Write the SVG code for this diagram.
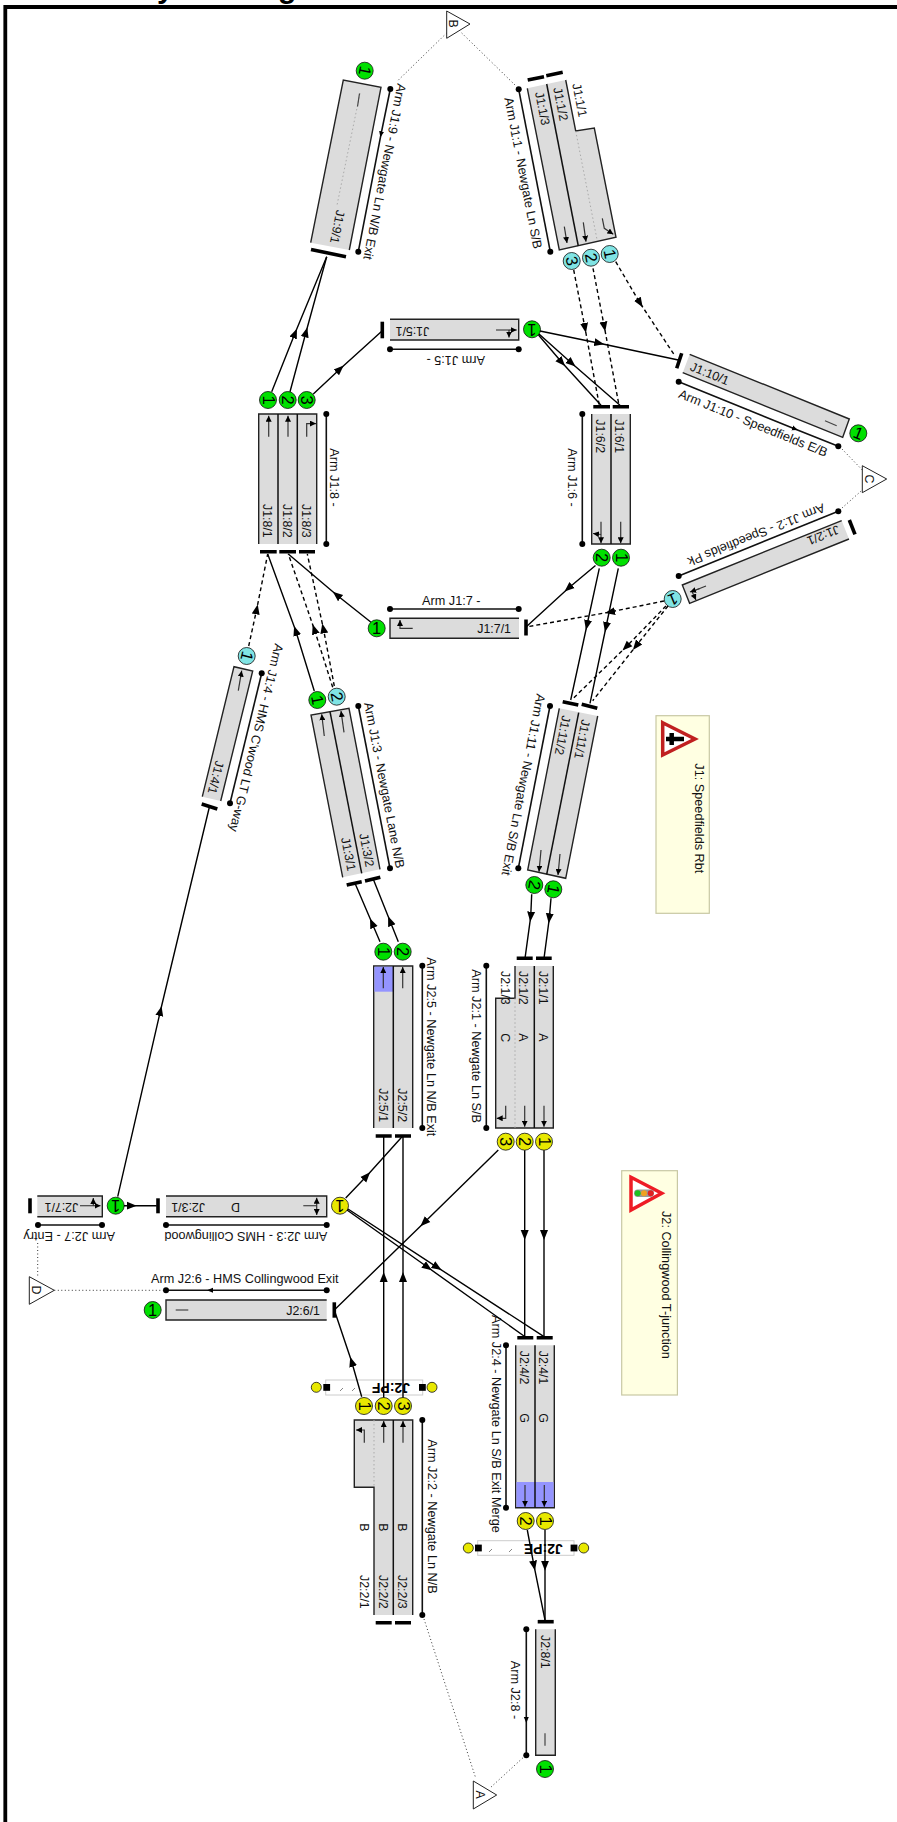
<svg xmlns="http://www.w3.org/2000/svg" width="897" height="1822" viewBox="0 0 897 1822">
<style>
text{font-family:"Liberation Sans",Arial,sans-serif;font-size:12.400px;fill:#111}
.lb{font-size:12.700px;fill:#111}
.n{font-size:16.500px;text-anchor:middle;fill:#000}
.t{font-weight:bold;font-size:30px;fill:#000}
.px{font-weight:bold;font-size:14px;fill:#000}
.ar{fill:#dcdcdc;stroke:#222;stroke-width:1.400}
.dv{stroke:#111;stroke-width:1.500;fill:none}
.dt{stroke:#aaa;stroke-width:1;stroke-dasharray:1.500 2.500;fill:none}
.bar{stroke:#000;stroke-width:3.600;fill:none}
.ln{stroke:#111;stroke-width:1.600;fill:none}
.mid{marker-mid:url(#m)}
.dot{fill:#000}
.g{fill:#00e000;stroke:#111;stroke-width:.8}
.y{fill:#e8e800;stroke:#111;stroke-width:.8}
.b{fill:#80e4e4;stroke:#111;stroke-width:.8}
.la{stroke:#333;stroke-width:1.200;fill:none;marker-end:url(#s)}
.mk{stroke:#444;stroke-width:1.200;fill:none}
.c{stroke:#000;stroke-width:1.400;fill:none;marker-mid:url(#h)}
.d{stroke:#000;stroke-width:1.400;fill:none;stroke-dasharray:4 3;marker-mid:url(#h)}
.o{stroke:#333;stroke-width:1;fill:none;stroke-dasharray:1 2.500}
.tri{fill:#fff;stroke:#222;stroke-width:1}
.note{fill:#ffffe2;stroke:#c8c8a4;stroke-width:1.200}
.blue{fill:#9494ff}
.cross{fill:#fff;stroke:#ccc;stroke-width:1}
.sl{stroke:#666;stroke-width:.8;fill:none}
</style>
<defs>
<marker id="h" markerUnits="userSpaceOnUse" markerWidth="12" markerHeight="10" refX="5" refY="4" orient="auto" viewBox="0 0 12 8"><path d="M0 0L10 4L0 8Z" fill="#000"/></marker>
<marker id="m" markerUnits="userSpaceOnUse" markerWidth="8" markerHeight="6" refX="3" refY="3" orient="auto" viewBox="0 0 8 6"><path d="M0 .5L6 3L0 5.500Z" fill="#000"/></marker>
<marker id="s" markerUnits="userSpaceOnUse" markerWidth="8" markerHeight="6" refX="6" refY="3" orient="auto" viewBox="0 0 8 6"><path d="M0 0L6 3L0 6Z" fill="#000"/></marker>
</defs>

<g id="frame">
<path d="M5.300 1822V7H897" fill="none" stroke="#000" stroke-width="3.800"/>
<text class="t" x="157" y="-2.500">y</text>
<text class="t" x="278" y="-2.500">g</text>
</g>

<g id="arm-J1-9">
<path class="ar" d="M310.700 242.700L343.300 80L381 87.300L349.300 250"/>
<path class="dt" d="M360 93.300L336.700 206.700"/>
<path class="bar" d="M311 249.500L346 256.700"/>
<path class="mk" d="M359.500 93.500L357.500 106.500"/>
<text transform="translate(336.500 209.500) rotate(101)">J1:9/1</text>
<circle class="g" cx="364.700" cy="70.700" r="8.500"/>
<text class="n" transform="translate(364.700 70.700) rotate(101)" y="5.500">1</text>
<path class="ln mid" d="M390.300 89L381 134.300L358.300 251.700"/>
<circle class="dot" cx="390.300" cy="89" r="3"/><circle class="dot" cx="358.300" cy="251.700" r="3"/>
<text class="lb" transform="translate(397.500 83) rotate(101)">Arm J1:9 - Newgate Ln N/B Exit</text>
</g>

<g id="arm-J1-1">
<path class="ar" d="M565.700 80L575.700 131L594.300 128L616 237.300L559.300 250L527.300 88.300"/>
<path class="dv" d="M546.700 84L578.300 246"/>
<path class="dt" d="M575.700 131L597.300 241"/>
<path class="bar" d="M527.700 80L544 76.700M546.300 75.700L562.700 72.300"/>
<path class="la" d="M564.300 226.700L567 243"/><path class="la" d="M583.300 222.300L586 241.700"/><path class="la" d="M602.300 218.300L604.300 228.300L613.300 234.300"/>
<text transform="translate(535 92.700) rotate(79)">J1:1/3</text>
<text transform="translate(553.300 88.300) rotate(79)">J1:1/2</text>
<text transform="translate(572.300 84.300) rotate(79)">J1:1/1</text>
<circle class="b" cx="571.700" cy="261" r="8.500"/><text class="n" transform="translate(571.700 261) rotate(79)" y="5.500">3</text>
<circle class="b" cx="591" cy="257.700" r="8.500"/><text class="n" transform="translate(591 257.700) rotate(79)" y="5.500">2</text>
<circle class="b" cx="609.700" cy="254" r="8.500"/><text class="n" transform="translate(609.700 254) rotate(79)" y="5.500">1</text>
<path class="ln" d="M518.700 89.300L550.300 251.700"/>
<circle class="dot" cx="518.700" cy="89.300" r="3"/><circle class="dot" cx="550.300" cy="251.700" r="3"/>
<text class="lb" transform="translate(504.300 98.300) rotate(79)">Arm J1:1 - Newgate Ln S/B</text>
</g>

<g id="arm-J1-10">
<path class="ar" d="M682.700 372.700L842.700 437.300L849.300 419L689.700 354.300"/>
<path class="bar" d="M676.700 368.300L681.700 353.300"/>
<path class="mk" d="M825 420.700L836.700 425.700"/>
<text transform="translate(689.300 370) rotate(22)">J1:10/1</text>
<circle class="g" cx="858.300" cy="433.300" r="8.500"/><text class="n" transform="translate(858.300 433.300) rotate(22)" y="5.500">1</text>
<path class="ln mid" d="M678.700 381.700L795 429L838.300 446.300"/>
<circle class="dot" cx="678.700" cy="381.700" r="3"/><circle class="dot" cx="838.300" cy="446.300" r="3"/>
<text class="lb" transform="translate(677.700 397.300) rotate(22)">Arm J1:10 - Speedfields E/B</text>
</g>

<g id="arm-J1-2">
<path class="ar" d="M841.700 520.700L682.300 585L689.600 603.300L849 539"/>
<path class="bar" d="M849.300 520L855 534.300"/>
<path class="la" d="M706 586L692 591.500L696 600"/><path class="la" d="M700 588.500L690 592"/>
<text transform="translate(837.300 525) rotate(158)">J1:2/1</text>
<circle class="b" cx="672.700" cy="599" r="8.500"/><text class="n" transform="translate(672.700 599) rotate(158)" y="5.500">1</text>
<path class="ln" d="M838.300 511.300L678.700 576"/>
<circle class="dot" cx="838.300" cy="511.300" r="3"/><circle class="dot" cx="678.700" cy="576" r="3"/>
<text class="lb" transform="translate(822.700 503.300) rotate(158)">Arm J1:2 - Speedfields Pk</text>
</g>

<g id="arm-J1-6">
<path class="ar" d="M591.700 414V544H630.300V414"/>
<path class="dv" d="M611 414V544"/>
<path class="bar" d="M593.300 406.700H610M612.700 406.700H629"/>
<path class="la" d="M620.700 521.700V543.300"/><path class="la" d="M601 521.700V543.300"/><path class="la" d="M601 534.500L593 533.500"/>
<text transform="translate(596 419.300) rotate(90)">J1:6/2</text>
<text transform="translate(615.300 419.300) rotate(90)">J1:6/1</text>
<circle class="g" cx="601.700" cy="557.700" r="8.500"/><text class="n" transform="translate(601.700 557.700) rotate(90)" y="5.500">2</text>
<circle class="g" cx="621" cy="557.700" r="8.500"/><text class="n" transform="translate(621 557.700) rotate(90)" y="5.500">1</text>
<path class="ln" d="M582.300 414V544"/>
<circle class="dot" cx="582.300" cy="414" r="3"/><circle class="dot" cx="582.300" cy="544" r="3"/>
<text class="lb" transform="translate(568.300 448.300) rotate(90)">Arm J1:6 -</text>
</g>

<g id="arm-J1-5">
<path class="ar" d="M390 319.300H518.700V340H390"/>
<path class="bar" d="M382.300 321.700V338.300"/>
<path class="mk" d="M496 330H509"/><path class="la" d="M509 330H516.700"/><path class="la" d="M509 330V337.500"/>
<text transform="translate(429.300 326.700) rotate(180)">J1:5/1</text>
<circle class="g" cx="532" cy="329.300" r="8.500"/><text class="n" transform="translate(532 329.300) rotate(180)" y="5.500">1</text>
<path class="ln" d="M390 349.300H518.700"/>
<circle class="dot" cx="390" cy="349.300" r="3"/><circle class="dot" cx="518.700" cy="349.300" r="3"/>
<text class="lb" transform="translate(485 355.700) rotate(180)">Arm J1:5 -</text>
</g>

<g id="arm-J1-8">
<path class="ar" d="M258.700 544V414H316.700V544"/>
<path class="dv" d="M278 414V544M297.300 414V544"/>
<path class="bar" d="M260 551.700H276.700M279.300 551.700H296M299 551.700H315"/>
<path class="la" d="M268.700 436.700V415.700"/><path class="la" d="M288 436.700V415.700"/><path class="la" d="M306.700 436.700V423.600H316"/>
<text transform="translate(263.300 504) rotate(90)">J1:8/1</text>
<text transform="translate(282.700 504) rotate(90)">J1:8/2</text>
<text transform="translate(302 504) rotate(90)">J1:8/3</text>
<circle class="g" cx="268" cy="400" r="8.500"/><text class="n" transform="translate(268 400) rotate(90)" y="5.500">1</text>
<circle class="g" cx="287.700" cy="400" r="8.500"/><text class="n" transform="translate(287.700 400) rotate(90)" y="5.500">2</text>
<circle class="g" cx="306.700" cy="400" r="8.500"/><text class="n" transform="translate(306.700 400) rotate(90)" y="5.500">3</text>
<path class="ln" d="M326.300 414V544"/>
<circle class="dot" cx="326.300" cy="414" r="3"/><circle class="dot" cx="326.300" cy="544" r="3"/>
<text class="lb" transform="translate(330 448.300) rotate(90)">Arm J1:8 -</text>
</g>

<g id="arm-J1-7">
<path class="ar" d="M519 618.300H390V638.300H519"/>
<path class="bar" d="M526 619.500V635.500"/>
<path class="la" d="M412.700 628.300H400V620"/>
<text x="511" y="633.300" text-anchor="end">J1:7/1</text>
<circle class="g" cx="376.700" cy="628.300" r="8.500"/><text class="n" x="376.700" y="634">1</text>
<path class="ln" d="M390 609H518.700"/>
<circle class="dot" cx="390" cy="609" r="3"/><circle class="dot" cx="518.700" cy="609" r="3"/>
<text class="lb" x="422" y="604.500">Arm J1:7 -</text>
</g>

<g id="arm-J1-11">
<path class="ar" d="M559.300 708.300L527.700 870L565.700 878.300L597.700 716"/>
<path class="dv" d="M578.700 712.700L546.700 874.300"/>
<path class="bar" d="M562.700 701.700L578.300 705M581.700 704.300L597.300 708.300"/>
<path class="la" d="M541 850L539 871.700"/><path class="la" d="M560 854L558 875"/>
<text transform="translate(562.300 715) rotate(101)">J1:11/2</text>
<text transform="translate(581.700 719) rotate(101)">J1:11/1</text>
<circle class="g" cx="534.300" cy="885" r="8.500"/><text class="n" transform="translate(534.300 885) rotate(101)" y="5.500">2</text>
<circle class="g" cx="553.300" cy="889.300" r="8.500"/><text class="n" transform="translate(553.300 889.300) rotate(101)" y="5.500">1</text>
<path class="ln" d="M550 706L518.300 868.300"/>
<circle class="dot" cx="550" cy="706" r="3"/><circle class="dot" cx="518.300" cy="868.300" r="3"/>
<text class="lb" transform="translate(536.700 693.300) rotate(101)">Arm J1:11 - Newgate Ln S/B Exit</text>
</g>

<g id="arm-J1-3">
<path class="ar" d="M342.700 877.300L311 715L349 708.300L380 869.300"/>
<path class="dv" d="M330 711.700L361.700 873.300"/>
<path class="bar" d="M346.700 885L361.700 881.700M365 881L380.300 877.300"/>
<path class="la" d="M324.300 736L321.700 714.300"/><path class="la" d="M344 732.300L341 711"/>
<text transform="translate(341 838.300) rotate(79)">J1:3/1</text>
<text transform="translate(359.300 834.300) rotate(79)">J1:3/2</text>
<circle class="g" cx="317.300" cy="700" r="8.500"/><text class="n" transform="translate(317.300 700) rotate(79)" y="5.500">1</text>
<circle class="b" cx="336.700" cy="696.700" r="8.500"/><text class="n" transform="translate(336.700 696.700) rotate(79)" y="5.500">2</text>
<path class="ln" d="M358.300 706L390 868.300"/>
<circle class="dot" cx="358.300" cy="706" r="3"/><circle class="dot" cx="390" cy="868.300" r="3"/>
<text class="lb" transform="translate(364 703.300) rotate(79)">Arm J1:3 - Newgate Lane N/B</text>
</g>

<g id="arm-J1-4">
<path class="ar" d="M202.300 796.700L234 666.700L252.700 671L220.700 801"/>
<path class="bar" d="M201.700 804L217.300 809"/>
<path class="la" d="M238.300 690.700L241.700 670.700"/>
<text transform="translate(215.700 760) rotate(103.700)">J1:4/1</text>
<circle class="b" cx="246.700" cy="656" r="8.500"/><text class="n" transform="translate(246.700 656) rotate(103.700)" y="5.500">1</text>
<path class="ln" d="M261.700 673.300L230 803.300"/>
<circle class="dot" cx="261.700" cy="673.300" r="3"/><circle class="dot" cx="230" cy="803.300" r="3"/>
<text class="lb" transform="translate(275 643) rotate(103.700)">Arm J1:4 - HMS C'wood LT G-way</text>
</g>

<g id="arm-J2-5">
<path class="ar" d="M373.700 1128V966H412.700V1128"/>
<rect class="blue" x="374.400" y="966.700" width="18.900" height="25"/>
<path class="dv" d="M393.300 966V1128"/>
<path class="bar" d="M375.700 1136H391.700M395 1136H411"/>
<path class="la" d="M383.300 988.300V967"/><path class="la" d="M402.700 988.300V967"/>
<text transform="translate(379 1088.300) rotate(90)">J2:5/1</text>
<text transform="translate(398.300 1088.300) rotate(90)">J2:5/2</text>
<circle class="g" cx="383.300" cy="951.700" r="8.500"/><text class="n" transform="translate(383.300 951.700) rotate(90)" y="5.500">1</text>
<circle class="g" cx="402.700" cy="951.700" r="8.500"/><text class="n" transform="translate(402.700 951.700) rotate(90)" y="5.500">2</text>
<path class="ln" d="M422.300 965.700V1128"/>
<circle class="dot" cx="422.300" cy="965.700" r="3"/><circle class="dot" cx="422.300" cy="1128" r="3"/>
<text class="lb" transform="translate(426.700 957.300) rotate(90)">Arm J2:5 - Newgate Ln N/B Exit</text>
</g>

<g id="arm-J2-1">
<path class="ar" d="M515 966V998.300H495.700V1128H553.300V966"/>
<path class="dv" d="M534.300 966V1128"/>
<path class="dt" d="M515 998.300V1128"/>
<path class="bar" d="M516.700 958.300H532.700M536 958.300H551.700"/>
<path class="la" d="M544 1105.700V1126.700"/><path class="la" d="M524.700 1105.700V1126.700"/><path class="la" d="M505.700 1105.700V1118.300H496.700"/>
<text transform="translate(501 971) rotate(90)">J2:1/3</text>
<text transform="translate(519.300 971) rotate(90)">J2:1/2</text>
<text transform="translate(538.700 971) rotate(90)">J2:1/1</text>
<text transform="translate(501 1033.300) rotate(90)">C</text>
<text transform="translate(519.300 1033.300) rotate(90)">A</text>
<text transform="translate(538.700 1033.300) rotate(90)">A</text>
<circle class="y" cx="505.700" cy="1141.700" r="8.500"/><text class="n" transform="translate(505.700 1141.700) rotate(90)" y="5.500">3</text>
<circle class="y" cx="524.700" cy="1141.700" r="8.500"/><text class="n" transform="translate(524.700 1141.700) rotate(90)" y="5.500">2</text>
<circle class="y" cx="544" cy="1141.700" r="8.500"/><text class="n" transform="translate(544 1141.700) rotate(90)" y="5.500">1</text>
<path class="ln" d="M486.300 965.700V1128"/>
<circle class="dot" cx="486.300" cy="965.700" r="3"/><circle class="dot" cx="486.300" cy="1128" r="3"/>
<text class="lb" transform="translate(472.300 969.300) rotate(90)">Arm J2:1 - Newgate Ln S/B</text>
</g>

<g id="arm-J2-7">
<path class="ar" d="M37.300 1196H102.300V1216.700H37.300"/>
<path class="bar" d="M30 1198.300V1213.300"/>
<path class="mk" d="M80 1205.700H93"/><path class="la" d="M93 1205.700H100.500"/><path class="la" d="M93.300 1205.700V1198"/>
<text transform="translate(78.300 1203.300) rotate(180)">J2:7/1</text>
<circle class="g" cx="115.700" cy="1205.700" r="8.500"/><text class="n" transform="translate(115.700 1205.700) rotate(180)" y="5.500">1</text>
<path class="ln" d="M38 1225H102"/>
<circle class="dot" cx="38" cy="1225" r="3"/><circle class="dot" cx="102" cy="1225" r="3"/>
<text class="lb" transform="translate(115 1232.300) rotate(180)">Arm J2:7 - Entry</text>
</g>

<g id="arm-J2-3">
<path class="ar" d="M166 1196H326.700V1216.700H166"/>
<path class="bar" d="M158 1198.300V1213.300"/>
<path class="mk" d="M303.300 1205.700H316.700"/><path class="la" d="M316.700 1206V1197.700"/><path class="la" d="M316.700 1206V1215"/>
<text transform="translate(205 1203.300) rotate(180)">J2:3/1</text>
<text transform="translate(240 1203.300) rotate(180)">D</text>
<circle class="y" cx="340" cy="1205.700" r="8.500"/><text class="n" transform="translate(340 1205.700) rotate(180)" y="5.500">1</text>
<path class="ln" d="M166 1225H326.700"/>
<circle class="dot" cx="166" cy="1225" r="3"/><circle class="dot" cx="326.700" cy="1225" r="3"/>
<text class="lb" transform="translate(327.300 1232.300) rotate(180)">Arm J2:3 - HMS Collingwood</text>
</g>

<g id="arm-J2-6">
<path class="ar" d="M326.700 1300H166V1320H326.700"/>
<path class="bar" d="M334.300 1302.300V1317.700"/>
<path class="mk" d="M175.700 1310H188.300"/>
<text x="320" y="1315" text-anchor="end">J2:6/1</text>
<circle class="g" cx="152.700" cy="1310" r="8.500"/><text class="n" x="152.700" y="1315.800">1</text>
<path class="ln mid" d="M326.700 1290.300L210 1290.300L166 1290.300"/>
<circle class="dot" cx="166" cy="1290.300" r="3"/><circle class="dot" cx="326.700" cy="1290.300" r="3"/>
<text class="lb" x="151" y="1283.300">Arm J2:6 - HMS Collingwood Exit</text>
</g>

<g id="arm-J2-2">
<path class="ar" d="M374 1615V1487.300H354.300V1420H412.700V1615"/>
<path class="dv" d="M393.300 1420V1615"/>
<path class="dt" d="M374 1420V1487.300"/>
<path class="bar" d="M375.700 1622.700H391.700M395 1622.700H411"/>
<path class="la" d="M403 1442.700V1421"/><path class="la" d="M383.700 1442.700V1421"/><path class="la" d="M364.300 1442.700V1430H356"/>
<text transform="translate(360 1575) rotate(90)">J2:2/1</text>
<text transform="translate(379 1575) rotate(90)">J2:2/2</text>
<text transform="translate(398.300 1575) rotate(90)">J2:2/3</text>
<text transform="translate(360 1523.300) rotate(90)">B</text>
<text transform="translate(379 1523.300) rotate(90)">B</text>
<text transform="translate(398.300 1523.300) rotate(90)">B</text>
<circle class="y" cx="364" cy="1406" r="8.500"/><text class="n" transform="translate(364 1406) rotate(90)" y="5.500">1</text>
<circle class="y" cx="383.700" cy="1406" r="8.500"/><text class="n" transform="translate(383.700 1406) rotate(90)" y="5.500">2</text>
<circle class="y" cx="403" cy="1406" r="8.500"/><text class="n" transform="translate(403 1406) rotate(90)" y="5.500">3</text>
<path class="ln" d="M422.300 1420V1615"/>
<circle class="dot" cx="422.300" cy="1420" r="3"/><circle class="dot" cx="422.300" cy="1615" r="3"/>
<text class="lb" transform="translate(427.700 1439.300) rotate(90)">Arm J2:2 - Newgate Ln N/B</text>
</g>

<g id="arm-J2-4">
<path class="ar" d="M515.700 1345.300V1507.700H554.300V1345.300"/>
<rect class="blue" x="516.400" y="1482" width="37.200" height="25"/>
<path class="dv" d="M535 1345.300V1507.700"/>
<path class="bar" d="M517.300 1337.700H533.300M536.700 1337.700H552.700"/>
<path class="la" d="M525 1485V1506.700"/><path class="la" d="M544.300 1485V1506.700"/>
<text transform="translate(520 1350.700) rotate(90)">J2:4/2</text>
<text transform="translate(539.300 1350.700) rotate(90)">J2:4/1</text>
<text transform="translate(520 1413.300) rotate(90)">G</text>
<text transform="translate(539.300 1413.300) rotate(90)">G</text>
<circle class="y" cx="525.700" cy="1521" r="8.500"/><text class="n" transform="translate(525.700 1521) rotate(90)" y="5.500">2</text>
<circle class="y" cx="545" cy="1521" r="8.500"/><text class="n" transform="translate(545 1521) rotate(90)" y="5.500">1</text>
<path class="ln" d="M506 1345.300V1507.700"/>
<circle class="dot" cx="506" cy="1345.300" r="3"/><circle class="dot" cx="506" cy="1507.700" r="3"/>
<text class="lb" transform="translate(492.300 1315) rotate(90)">Arm J2:4 - Newgate Ln S/B Exit Merge</text>
</g>

<g id="arm-J2-8">
<path class="ar" d="M535.700 1629.300V1755.300H555.300V1629.300"/>
<path class="bar" d="M537.700 1621.700H553.700"/>
<path class="mk" d="M545 1733.300V1745.700"/>
<text transform="translate(541 1635) rotate(90)">J2:8/1</text>
<circle class="g" cx="545" cy="1769" r="8.500"/><text class="n" transform="translate(545 1769) rotate(90)" y="5.500">1</text>
<path class="ln mid" d="M526.300 1629.300V1720V1755.300"/>
<circle class="dot" cx="526.300" cy="1629.300" r="3"/><circle class="dot" cx="526.300" cy="1755.300" r="3"/>
<text class="lb" transform="translate(511 1660.700) rotate(90)">Arm J2:8 -</text>
</g>

<g id="crossing-J2-PF">
<rect class="cross" x="325.700" y="1380" width="97" height="15"/>
<path class="sl" d="M340 1391L343 1388M352 1391L355 1388"/>
<rect x="323.300" y="1384" width="6.800" height="6.800" fill="#000"/><rect x="419" y="1384" width="6.800" height="6.800" fill="#000"/>
<circle class="y" cx="316.300" cy="1387.300" r="5"/><circle class="y" cx="432" cy="1387.300" r="5"/>
<text class="px" transform="translate(410 1383) rotate(180)">J2:PF</text>
</g>

<g id="crossing-J2-PE">
<rect class="cross" x="477.700" y="1540.700" width="96.300" height="14.600"/>
<path class="sl" d="M489 1552L492 1549M509 1552L512 1549"/>
<rect x="475" y="1544.600" width="6.800" height="6.800" fill="#000"/><rect x="570.600" y="1544.600" width="6.800" height="6.800" fill="#000"/>
<circle class="y" cx="468.300" cy="1548" r="5"/><circle class="y" cx="583.700" cy="1548" r="5"/>
<text class="px" transform="translate(562.700 1543.500) rotate(180)">J2:PE</text>
</g>

<g id="zone-A"><path class="tri" d="M473.300 1781L496.700 1795L473.300 1809Z"/><text transform="translate(476 1790.500) rotate(90)">A</text></g>
<g id="zone-B"><path class="tri" d="M446.700 11L470 24L446.700 38.300Z"/><text transform="translate(449 19.500) rotate(90)">B</text></g>
<g id="zone-C"><path class="tri" d="M862.300 465.700L886.700 479L862.300 492.700Z"/><text transform="translate(864.500 474.500) rotate(90)">C</text></g>
<g id="zone-D"><path class="tri" d="M29.300 1276.700L54.300 1290.300L29.300 1304.300Z"/><text transform="translate(31.500 1285.500) rotate(90)">D</text></g>

<g id="note-J1">
<rect class="note" x="656" y="715.700" width="53.300" height="197.600"/>
<path d="M662.700 722.700L695 739L662.700 755Z" fill="#fff" stroke="#c02020" stroke-width="3.500"/>
<path d="M666 739H684" stroke="#000" stroke-width="4.500"/><path d="M671.700 733V745" stroke="#000" stroke-width="4.500"/>
<text transform="translate(695 763.300) rotate(90)" class="lb">J1: Speedfields Rbt</text>
</g>
<g id="note-J2">
<rect class="note" x="621.700" y="1170.700" width="55.700" height="224.300"/>
<path d="M631 1177.300L661.700 1193.300L631 1210Z" fill="#fff" stroke="#ee1c25" stroke-width="3.500"/>
<rect x="634" y="1189.500" width="20" height="7.500" rx="3.700" fill="#999"/>
<circle cx="637.700" cy="1193.300" r="3" fill="#20c020"/><circle cx="644" cy="1193.300" r="3" fill="#f0a020"/><circle cx="650.700" cy="1193.300" r="3" fill="#e02020"/>
<text transform="translate(662.300 1211) rotate(90)" class="lb">J2: Collingwood T-junction</text>
</g>

<g id="connectors">
<path class="o" d="M446.700 33L396.700 81.700"/><path class="o" d="M461.700 33L515 85"/>
<path class="o" d="M842 449L862.300 470"/><path class="o" d="M842 508L862.300 490"/>
<path class="o" d="M54.300 1290.300H163"/><path class="o" d="M37.700 1243V1277"/>
<path class="o" d="M424 1619L475.700 1778"/><path class="o" d="M522.700 1758L490 1788"/>

<path class="d" d="M573.700 270L585 328L599.300 405.300"/>
<path class="d" d="M593 268.300L604.300 326.700L619 405.300"/>
<path class="d" d="M615.700 261.700L640 303L675 356"/>
<path class="c" d="M540 331L599.300 343.300L678.300 360"/>
<path class="c" d="M538.500 335L561.700 362.300L601 405.300"/>
<path class="c" d="M539 334L571.700 363.300L620 405.300"/>
<path class="c" d="M271.700 391.700L295 333.300L326.700 256.700"/>
<path class="c" d="M290 391.700L306 332.300L326.700 256.700"/>
<path class="c" d="M313.300 394L340 369L382.300 330.700"/>
<path class="d" d="M248.700 646L256.700 609.300L267.700 554"/>
<path class="c" d="M314.300 691L295.700 630.700L267.700 554"/>
<path class="d" d="M332.700 687.300L314.300 629.300L288.300 554"/>
<path class="d" d="M334.300 686L323.300 628.300L307.300 554"/>
<path class="c" d="M370.700 622L336.700 595L288.300 554"/>
<path class="d" d="M664 601L610 612L526 627"/>
<path class="d" d="M666 606L626 647L573.300 698.300"/>
<path class="d" d="M668 606L636 646L592.700 700.700"/>
<path class="c" d="M595.500 565.500L568.300 588.300L526 627"/>
<path class="c" d="M599.300 568.300L587 625L570.700 700"/>
<path class="c" d="M618.300 568.300L606 627L590 703.300"/>
<path class="c" d="M531.700 894.300L530.700 916.700L525 958.300"/>
<path class="c" d="M551 898.300L549.300 918.300L544 958.300"/>
<path class="c" d="M380 941.700L372 923L355 883.300"/>
<path class="c" d="M398.300 941.700L390 921L373.300 879.300"/>
<path class="c" d="M117.700 1196.700L160.400 1011L209.500 806.500"/>
<path class="c" d="M124 1205.700L131.700 1205.700L156.700 1205.700"/>
<path class="c" d="M345.700 1198L366.700 1176L402.700 1136"/>
<path class="c" d="M498.300 1150L424 1222.700L334.300 1310"/>
<path class="c" d="M347 1210L427.700 1267.300L525 1336.700"/>
<path class="c" d="M348 1209L437.300 1267.300L544 1336.700"/>
<path class="c" d="M524.700 1150.300V1235V1336.700"/>
<path class="c" d="M544 1150.300V1235V1336.700"/>
<path class="c" d="M361.700 1396.700L351.700 1361.700L334.300 1310"/>
<path class="c" d="M383.700 1397.500V1277V1136"/>
<path class="c" d="M403 1397.500V1277V1136"/>
<path class="c" d="M527.300 1530L534 1565.700L545 1620"/>
<path class="c" d="M545 1530V1565.700V1620"/>
</g>
</svg>
